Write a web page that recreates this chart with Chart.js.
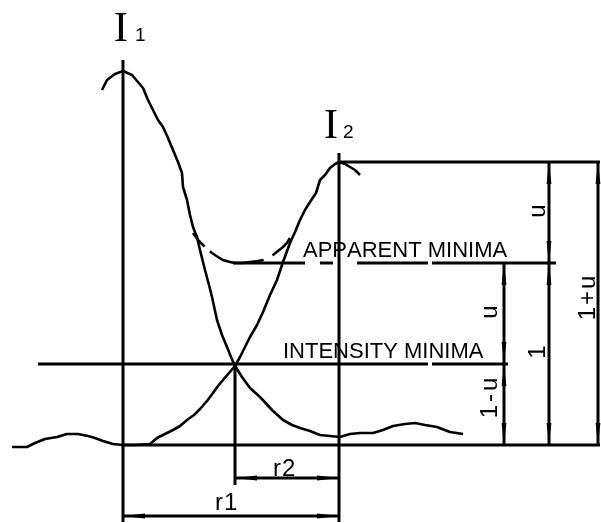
<!DOCTYPE html>
<html>
<head>
<meta charset="utf-8">
<script src="https://cdn.jsdelivr.net/npm/chart.js@4.4.1/dist/chart.umd.min.js"></script>
<style>
  html, body { margin: 0; padding: 0; background: #fff; }
  #wrap { width: 601px; height: 523px; }
</style>
</head>
<body>
<div id="wrap"><canvas id="diagram"></canvas></div>
<script>
// x: distance from the I1 axis, y: height above the baseline (apparent minimum = 182)
const curveI1 = [
  [-21,355],[-16,365],[-8,371],[0,374],[9,370],[20,357],[25,345],[30,335],[35,325],[40,318],
  [45,307],[50,295],[55,283],[59,272],[60,258],[64,245],[67,230],[70,218],[74,208],[77,195],
  [82,175],[86,160],[89,148],[94,125],[99,110],[104,98],[108,88],[112,79],[119,68],[127,57],
  [137,48],[149,35],[160,25],[169,20],[177,17],[187,14],[197,10],[207,9],[217,8],[227,11],
  [237,12],[250,12],[260,15],[270,19],[282,21],[292,22],[302,20],[314,18],[327,13],[340,11]
];
const curveI2 = [
  [-111,-2],[-96,-2],[-88,2],[-78,6],[-66,8],[-56,11],[-45,11],[-35,9],[-28,7],[-20,4],
  [-10,1],[0,0],[12,0],[27,1],[34,7],[42,11],[50,15],[57,19],[64,25],[71,30],[77,36],
  [84,44],[90,52],[95,59],[100,65],[106,72],[112,79],[117,88],[122,98],[127,108],[134,120],
  [140,133],[147,150],[154,165],[160,183],[167,202],[172,213],[177,225],[182,235],[187,243],
  [193,252],[197,265],[202,270],[207,277],[212,281],[216,283],[222,281],[227,278],[232,275],[237,270]
];
const apparentCurve = [
  [70,212],[75,205],[80,200],[85,195],[89,192],[95,188],[100,185],[107,183],[112,182],[120,182],
  [127,183],[135,184],[140,185],[145,187],[150,190],[155,194],[160,198],[164,202],[167,207]
];
const straightLines = [
  [[-1,0],[477,0]],                                   // baseline
  [[-85,81],[305,81]], [[309,81],[385,81]],           // intensity minima
  [[110,182],[182,182]], [[197,182],[210,182]],
  [[234,182],[305,182]], [[309,182],[433,182]],       // apparent minima
  [[216,283],[477,283]],                              // top of I2
  [[0,385],[0,-77]],                                  // I1 axis
  [[216,292],[216,-77]],                              // I2 axis
  [[112,79],[112,-40]],                               // crossing
  [[381,182],[381,0]], [[426,283],[426,0]], [[475,283],[475,0]],
  [[112,-33],[216,-33]],                              // r2
  [[0,-71],[216,-71]]                                 // r1
];
const arrows = [
  [426,283,'up'],[426,182,'down'],[426,182,'up'],[426,0,'down'],
  [381,182,'up'],[381,81,'down'],[381,81,'up'],[381,0,'down'],
  [475,283,'up'],[475,0,'down'],
  [112,-33,'left'],[216,-33,'right'],
  [0,-71,'left'],[216,-71,'right']
];
// [x, y, text, font, align, rotated, spacing]
const labels = [
  [-2,404,'I','43px "Liberation Serif"','center',false,0],
  [12,404,'1','19px "Liberation Sans"','left',false,0],
  [208,307,'I','43px "Liberation Serif"','center',false,0],
  [220,307,'2','19px "Liberation Sans"','left',false,0],
  [180,188,'APPARENT MINIMA','22px "Liberation Sans"','left',false,0],
  [160,87,'INTENSITY MINIMA','22px "Liberation Sans"','left',false,0],
  [422,234,'u','24px "Liberation Sans"','center',true,0],
  [374,133,'u','24px "Liberation Sans"','center',true,0],
  [472,147,'1+u','24px "Liberation Sans"','center',true,2],
  [422,93,'1','24px "Liberation Sans"','center',true,0],
  [374,47,'1-u','24px "Liberation Sans"','center',true,3],
  [150,-31,'r2','24px "Liberation Sans"','left',false,1],
  [92,-65,'r1','24px "Liberation Sans"','left',false,1]
];

const toPts = arr => arr.map(p => ({ x: p[0], y: p[1] }));

const datasets = [];
const lineStyle = { showLine: true, pointRadius: 0, borderColor: '#000', tension: 0, clip: false, fill: false };
datasets.push(Object.assign({ data: toPts(curveI1), borderWidth: 2.6, borderJoinStyle: 'round' }, lineStyle));
datasets.push(Object.assign({ data: toPts(curveI2), borderWidth: 2.6, borderJoinStyle: 'round' }, lineStyle));
datasets.push(Object.assign({ data: toPts(apparentCurve), borderWidth: 2.6, borderDash: [18, 7, 57, 10, 40] }, lineStyle));
straightLines.forEach(seg => {
  datasets.push(Object.assign({ data: toPts(seg), borderWidth: 3 }, lineStyle));
});

const decorations = {
  id: 'decorations',
  afterDatasetsDraw(chart) {
    const ctx = chart.ctx;
    const xs = chart.scales.x, ys = chart.scales.y;
    ctx.save();
    ctx.fillStyle = '#000';
    const len = 22, hw = 2.4;
    arrows.forEach(a => {
      const px = xs.getPixelForValue(a[0]), py = ys.getPixelForValue(a[1]);
      ctx.beginPath();
      ctx.moveTo(px, py);
      if (a[2] === 'up') { ctx.lineTo(px - hw, py + len); ctx.lineTo(px + hw, py + len); }
      if (a[2] === 'down') { ctx.lineTo(px - hw, py - len); ctx.lineTo(px + hw, py - len); }
      if (a[2] === 'left') { ctx.lineTo(px + len, py - hw); ctx.lineTo(px + len, py + hw); }
      if (a[2] === 'right') { ctx.lineTo(px - len, py - hw); ctx.lineTo(px - len, py + hw); }
      ctx.closePath();
      ctx.fill();
    });
    labels.forEach(l => {
      const px = xs.getPixelForValue(l[0]), py = ys.getPixelForValue(l[1]);
      ctx.save();
      ctx.font = l[3];
      ctx.textBaseline = 'alphabetic';
      ctx.textAlign = 'left';
      ctx.translate(px, py);
      if (l[5]) ctx.rotate(-Math.PI / 2);
      const chars = l[2].split('');
      const widths = chars.map(c => ctx.measureText(c).width);
      const total = widths.reduce((s, w) => s + w, 0) + l[6] * (chars.length - 1);
      let x = l[4] === 'center' ? -total / 2 : 0;
      chars.forEach((c, i) => { ctx.fillText(c, x, 0); x += widths[i] + l[6]; });
      ctx.restore();
    });
    ctx.restore();
  }
};

new Chart(document.getElementById('diagram'), {
  type: 'scatter',
  data: { datasets },
  options: {
    responsive: true,
    maintainAspectRatio: false,
    animation: false,
    events: [],
    layout: { padding: 0 },
    plugins: { legend: { display: false }, tooltip: { enabled: false } },
    scales: {
      x: { type: 'linear', min: -123, max: 478, display: false },
      y: { type: 'linear', min: -78, max: 445, display: false }
    }
  },
  plugins: [decorations]
});
</script>
</body>
</html>
